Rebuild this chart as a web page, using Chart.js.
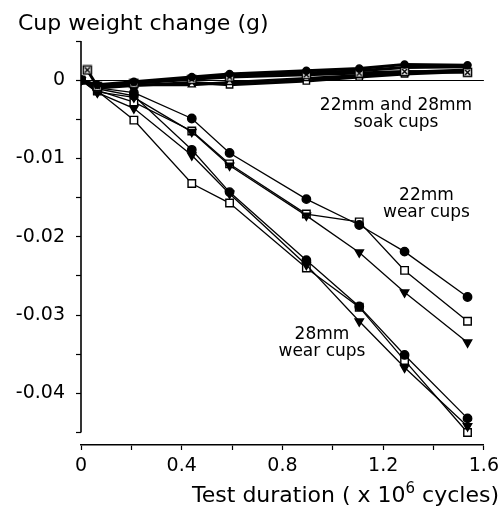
<!DOCTYPE html>
<html><head><meta charset="utf-8">
<script src="https://cdn.jsdelivr.net/npm/chart.js@4/dist/chart.umd.min.js"></script>
<style>html,body{margin:0;padding:0;background:#fff;}</style>
</head><body>
<canvas id="c" width="504" height="510"></canvas>
<script>
// ---- data (x in 10^6 cycles, y in g) ----
const cycles = [0, 0.065, 0.21, 0.44, 0.59, 0.895, 1.105, 1.285, 1.535];
const soakBoxCycles = [0.025, 0.065, 0.21, 0.44, 0.59, 0.895, 1.105, 1.285, 1.535];

const wear22Circle   = [0, -0.0010, -0.0016, -0.0049, -0.0093, -0.0152, -0.0185, -0.0219, -0.0277];
const wear22Square   = [0, -0.0013, -0.0028, -0.0065, -0.0107, -0.0171, -0.0181, -0.0243, -0.0308];
const wear22Triangle = [0, -0.0015, -0.0022, -0.0066, -0.0109, -0.0173, -0.0220, -0.0271, -0.0335];
const wear28Circle   = [0, -0.0011, -0.0020, -0.0089, -0.0143, -0.0230, -0.0289, -0.0351, -0.0432];
const wear28Triangle = [0, -0.0016, -0.0036, -0.0096, -0.0145, -0.0236, -0.0308, -0.0367, -0.0442];
const wear28Square   = [0, -0.0014, -0.0051, -0.0132, -0.0157, -0.0240, -0.0290, -0.0358, -0.0450];

const soakCircle         = [0, -0.0006, -0.0002, 0.0004, 0.0008, 0.0012, 0.0015, 0.0020, 0.0019];
const soakBox            = [0.0013, -0.0008, -0.0004, 0.0001, 0.0004, 0.0007, 0.0009, 0.0011, 0.0010];
const soakOpenTriangle   = [0, -0.0009, -0.0006, -0.0006, -0.0003, 0.0002, 0.0006, 0.0010, 0.0013];
const soakOpenSquare     = [0, -0.0010, -0.0007, -0.0003, -0.0006, -0.0001, 0.0004, 0.0008, 0.0011];
const soakFilledTriangle = [0, -0.0007, -0.0003, 0.0002, 0.0006, 0.0009, 0.0012, 0.0016, 0.0017];

const yTickLabels = ['0', '-0.01', '-0.02', '-0.03', '-0.04'];
const xTickLabels = ['0', '0.4', '0.8', '1.2', '1.6'];

const yTitle = 'Cup weight change (g)';
const xTitleParts = ['Test duration ( x 10', '6', ' cycles)'];
const notes = [
  {x: 1.251, y: -0.00383, lines: ['22mm and 28mm', 'soak cups']},
  {x: 1.372, y: -0.01534, lines: ['22mm', 'wear cups']},
  {x: 0.957, y: -0.0331,  lines: ['28mm', 'wear cups']}
];

// ---- marker: box with X ----
function boxX(){
  const c = document.createElement('canvas');
  c.width = 11; c.height = 11;
  const g = c.getContext('2d');
  g.fillStyle = '#fff'; g.fillRect(1,1,9,9);
  g.strokeStyle = '#000'; g.lineWidth = 1.5;
  g.strokeRect(1.5,1.5,8,8);
  g.beginPath(); g.moveTo(3,3); g.lineTo(8,8); g.moveTo(8,3); g.lineTo(3,8); g.stroke();
  return c;
}
const boxMarker = boxX();

function series(xs, ys, style, filled, opts){
  return Object.assign({
    data: xs.map((x,i)=>({x:x, y:ys[i]})),
    showLine: true,
    borderColor: '#000',
    borderWidth: 1.3,
    pointStyle: style,
    pointRadius: 4.5,
    pointBorderWidth: 1.4,
    pointBorderColor: '#000',
    pointBackgroundColor: filled ? '#000' : '#fff',
    tension: 0
  }, opts || {});
}

const FONT = '"DejaVu Sans", sans-serif';

const datasets = [
  series(cycles, soakCircle, 'circle', true, {borderWidth: 3, pointRadius: 3.5}),
  series(soakBoxCycles, soakBox, boxMarker, false, {borderWidth: 3}),
  series(cycles, soakFilledTriangle, 'triangle', true, {borderWidth: 3, pointRadius: 3.5, pointRotation: 180}),
  series(cycles, soakOpenTriangle, 'triangle', false, {borderWidth: 3, pointRadius: 4}),
  series(cycles, soakOpenSquare, 'rect', false, {borderWidth: 3, pointRadius: 4.5}),
  series(cycles, wear22Circle, 'circle', true, {pointRadius: 4.2}),
  series(cycles, wear28Circle, 'circle', true, {pointRadius: 4.2}),
  series(cycles, wear22Triangle, 'triangle', true, {pointRadius: 4.8, pointRotation: 180}),
  series(cycles, wear28Triangle, 'triangle', true, {pointRadius: 4.8, pointRotation: 180}),
  series(cycles, wear22Square, 'rect', false, {pointRadius: 5.3}),
  series(cycles, wear28Square, 'rect', false, {pointRadius: 5.3})
];

const near = (a,b)=>Math.abs(a-b)<1e-9;

const decor = {
  id: 'decor',
  beforeDatasetsDraw(chart){
    const {ctx, chartArea, scales:{y}} = chart;
    ctx.save();
    ctx.strokeStyle = '#000'; ctx.lineWidth = 1.6;
    ctx.beginPath();
    ctx.moveTo(chartArea.left, y.getPixelForValue(0.005));
    ctx.lineTo(chartArea.left, y.getPixelForValue(-0.045));
    ctx.stroke();
    ctx.restore();
  },
  afterDraw(chart){
    const {ctx, scales:{x, y}} = chart;
    ctx.save();
    ctx.fillStyle = '#000';
    ctx.textBaseline = 'alphabetic';
    // y title
    ctx.textAlign = 'left';
    ctx.font = '22px ' + FONT;
    ctx.fillText(yTitle, 18, 30);
    // x title with superscript
    ctx.font = '22px ' + FONT;
    const w1 = ctx.measureText(xTitleParts[0]).width;
    const w3 = ctx.measureText(xTitleParts[2]).width;
    ctx.font = '15px ' + FONT;
    const w2 = ctx.measureText(xTitleParts[1]).width;
    let sx = 499 - (w1 + w2 + w3);
    ctx.font = '22px ' + FONT;
    ctx.fillText(xTitleParts[0], sx, 502);
    ctx.font = '15px ' + FONT;
    ctx.fillText(xTitleParts[1], sx + w1, 493);
    ctx.font = '22px ' + FONT;
    ctx.fillText(xTitleParts[2], sx + w1 + w2, 502);
    // annotations
    ctx.font = '17px ' + FONT;
    ctx.textAlign = 'center';
    notes.forEach(n=>{
      const px = x.getPixelForValue(n.x), py = y.getPixelForValue(n.y);
      n.lines.forEach((t,i)=>ctx.fillText(t, px, py + i*17));
    });
    ctx.restore();
  }
};

new Chart(document.getElementById('c'), {
  type: 'scatter',
  data: {datasets},
  plugins: [decor],
  options: {
    responsive: false,
    animation: false,
    devicePixelRatio: 1,
    layout: {padding: {top: 41, right: 19, bottom: 0, left: 0}},
    plugins: {legend: {display: false}, tooltip: {enabled: false}},
    scales: {
      x: {
        type: 'linear', min: 0, max: 1.6,
        afterFit: s => { s.height = 65; },
        border: {display: true, color: '#000', width: 1.6},
        grid: {drawOnChartArea: false, drawTicks: true, tickLength: 5, tickColor: '#000', tickWidth: 1.2},
        ticks: {
          stepSize: 0.2, includeBounds: false, autoSkip: false, maxRotation: 0,
          color: '#000', font: {family: FONT, size: 19}, padding: 5,
          callback: v => {
            const k = Math.round(v * 10);
            return (k % 4 === 0) ? xTickLabels[k / 4] : '';
          }
        }
      },
      y: {
        type: 'linear', min: -0.0466, max: 0.005,
        afterFit: s => { s.width = 81; },
        border: {display: false},
        grid: {
          drawOnChartArea: true, drawTicks: true, tickLength: 5, tickColor: '#000', tickWidth: 1.2,
          color: c => (c.tick && near(c.tick.value, 0)) ? '#000' : 'rgba(0,0,0,0)',
          lineWidth: 1
        },
        ticks: {
          stepSize: 0.005, includeBounds: false, autoSkip: false,
          color: '#000', font: {family: FONT, size: 19}, padding: 11,
          callback: v => {
            const k = Math.round(-v * 200);
            return (k >= 0 && k % 2 === 0 && k/2 < yTickLabels.length) ? yTickLabels[k / 2] : '';
          }
        }
      }
    }
  }
});
</script>
</body></html>
